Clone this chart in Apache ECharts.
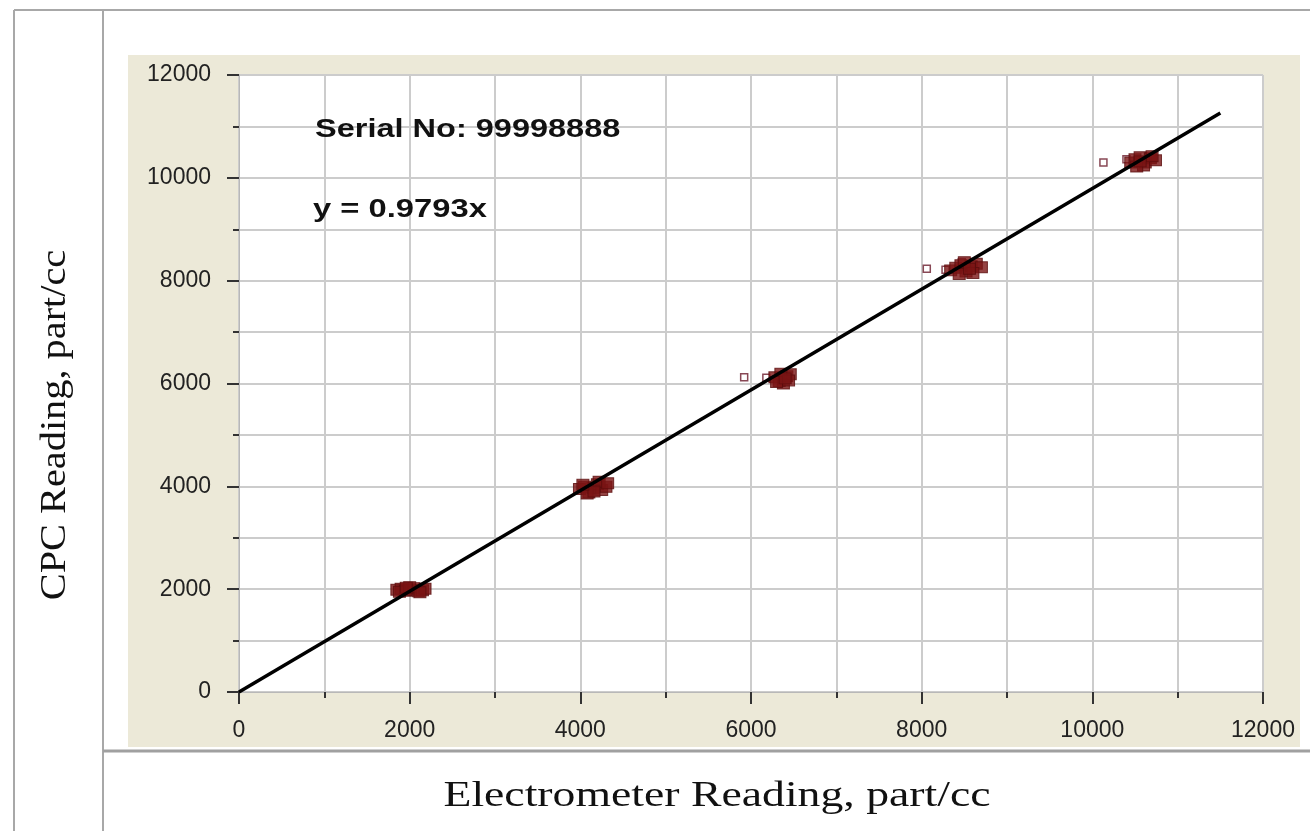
<!DOCTYPE html>
<html>
<head>
<meta charset="utf-8">
<script src="https://cdn.jsdelivr.net/npm/echarts@6/dist/echarts.min.js"></script>
<style>
html,body{margin:0;padding:0;background:#fff;}
#chart{width:1310px;height:831px;}
</style>
</head>
<body>
<div id="chart"></div>
<script>
// ---- data ----
var xTicks = [0, 2000, 4000, 6000, 8000, 10000, 12000];
var yTicks = [0, 2000, 4000, 6000, 8000, 10000, 12000];
var filledPoints = [
  [1850,1990],[1900,2010],[1950,1970],[2000,1990],[2050,2020],[2100,1960],[2150,1980],[2180,2010],[1880,1950],[2000,2040],[2120,1940],[1960,2030],
  [3990,3950],[4050,3990],[4100,3880],[4150,3970],[4200,4040],[4250,3930],[4300,3990],[4080,3860],[4220,4090],[4160,3900],[4030,4030],[4320,4060],
  [6280,6120],[6330,6050],[6380,6000],[6420,6140],[6460,6180],[6350,6190],[6300,6030],[6440,6060],[6400,6100],
  [8340,8200],[8400,8250],[8460,8300],[8520,8180],[8580,8280],[8640,8330],[8700,8260],[8500,8360],[8600,8150],[8440,8130],[8560,8230],
  [10450,10300],[10500,10360],[10560,10400],[10620,10300],[10680,10380],[10740,10340],[10600,10240],[10520,10220],[10700,10420],[10560,10320]
];
var openPoints = [
  [5920,6120],[6180,6110],
  [8060,8230],[8280,8210],[8470,8360],
  [10130,10300],[10400,10360]
];
var fitLine = [[0,0],[11500,11262]];
var serialText = 'Serial No: 99998888';
var eqText = 'y = 0.9793x';
var xTitle = 'Electrometer Reading, part/cc';
var yTitle = 'CPC Reading, part/cc';

var chart = echarts.init(document.getElementById('chart'));
var gridColor = '#cccccc';
function axisCfg(labels){
  return {
    type:'value', min:0, max:12000, interval:2000,
    axisLine:{show:true, lineStyle:{color:'#b8b8b8', width:1}},
    axisTick:{show:true, length:12, lineStyle:{color:'#333', width:2}},
    minorTick:{show:true, splitNumber:2, length:6, lineStyle:{color:'#333', width:2}},
    splitLine:{show:true, lineStyle:{color:gridColor, width:2}},
    minorSplitLine:{show:true, lineStyle:{color:gridColor, width:2}},
    axisLabel:{
      color:'#222', fontFamily:'Arial, Liberation Sans', fontSize:23,
      formatter:function(v){ return labels.indexOf(v) >= 0 ? String(v) : ''; }
    }
  };
}
var xAxis = axisCfg(xTicks); xAxis.axisLabel.margin = 27;
var yAxis = axisCfg(yTicks); yAxis.axisLabel.margin = 28;

chart.setOption({
  animation:false,
  backgroundColor:'#fff',
  grid:{left:239, right:47, top:75, bottom:139, show:true, backgroundColor:'#fff', borderColor:'#b8b8b8', borderWidth:1},
  xAxis: xAxis,
  yAxis: yAxis,
  graphic:[
    {type:'rect', z:-10, silent:true, shape:{x:128,y:55,width:1172,height:692}, style:{fill:'#ece9d8'}},
    {type:'line', z:-5, shape:{x1:14,y1:10,x2:1310,y2:10}, style:{stroke:'#a8a8a8', lineWidth:2}},
    {type:'line', z:-5, shape:{x1:14,y1:10,x2:14,y2:831}, style:{stroke:'#a8a8a8', lineWidth:2}},
    {type:'line', z:-5, shape:{x1:103,y1:10,x2:103,y2:831}, style:{stroke:'#a8a8a8', lineWidth:2}},
    {type:'line', z:-5, shape:{x1:103,y1:751,x2:1310,y2:751}, style:{stroke:'#a0a0a0', lineWidth:3}},
    {type:'text', x:315, y:130, scaleX:1.3, z:10, style:{text:serialText, font:'bold 25px Arial, "Liberation Sans"', fill:'#111', textVerticalAlign:'middle'}},
    {type:'text', x:313, y:210, scaleX:1.31, z:10, style:{text:eqText, font:'bold 25px Arial, "Liberation Sans"', fill:'#111', textVerticalAlign:'middle'}},
    {type:'text', x:717, y:797, scaleX:1.27, style:{text:xTitle, font:'36px "Times New Roman", "Liberation Serif", serif', fill:'#111', textAlign:'center', textVerticalAlign:'middle'}},
    {type:'text', x:56, y:425, scaleX:1.12, rotation:Math.PI/2, style:{text:yTitle, font:'36px "Times New Roman", "Liberation Serif", serif', fill:'#111', textAlign:'center', textVerticalAlign:'middle'}}
  ],
  series:[
    {type:'scatter', data:openPoints, symbol:'rect', symbolSize:7, z:3,
     itemStyle:{color:'#fff', borderColor:'#6a1a2a', borderWidth:1.5}},
    {type:'scatter', data:filledPoints, symbol:'rect', symbolSize:[12,11], z:4,
     itemStyle:{color:'#7a1414', borderColor:'#5a0d0d', borderWidth:1}},
    {type:'line', data:fitLine, symbol:'none', z:5, lineStyle:{color:'#000', width:3.5}}
  ]
});
</script>
</body>
</html>
